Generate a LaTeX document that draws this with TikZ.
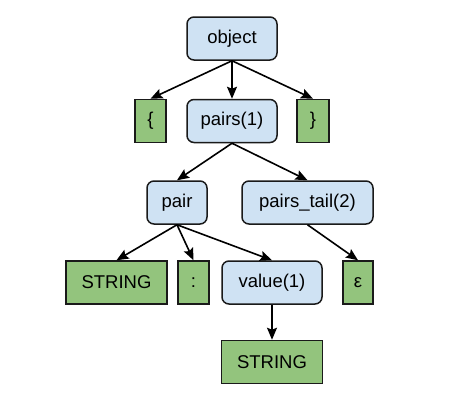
\documentclass[tikz,border=0pt]{standalone}
\usepackage{fontspec}
\setmainfont{Liberation Sans}
\usetikzlibrary{arrows.meta}
\definecolor{nblue}{HTML}{CFE2F3}
\definecolor{ngreen}{HTML}{93C47D}
\definecolor{nline}{HTML}{1A1A1A}
\begin{document}
\begin{tikzpicture}[x=1pt,y=-1pt,
  base/.style={draw=nline,line width=1.5pt,inner sep=0pt,minimum height=43pt,font=\fontsize{18.5}{20}\selectfont},
  nonterm/.style={base,fill=nblue,rounded corners=7pt},
  term/.style={base,fill=ngreen},
  edge/.style={line width=1.6pt,-{Stealth[length=12pt,width=10pt,inset=2pt]}}]
\useasboundingbox[fill=white] (0,0) rectangle (451,416);
\node[nonterm,minimum width=90pt] (obj) at (232,38.5) {object};
\node[term,minimum width=31pt] (lb) at (150.5,121) {\{};
\node[nonterm,minimum width=90pt] (pairs) at (232,121) {pairs(1)};
\node[term,minimum width=32pt] (rb) at (313,121) {\}};
\node[nonterm,minimum width=60pt] (pair) at (177,202.5) {pair};
\node[nonterm,minimum width=131pt] (tail) at (307.5,202.5) {pairs\_tail(2)};
\node[term,minimum width=101pt] (str1) at (116.5,282.5) {STRING};
\node[term,minimum width=31pt] (colon) at (193.5,282.5) {:};
\node[nonterm,minimum width=100pt] (value) at (272,282.5) {value(1)};
\node[term,minimum width=30pt] (eps) at (358,282.5) {ε};
\node[term,minimum width=101pt] (str2) at (272,362) {STRING};
\draw[edge] (obj.south) -- (lb.north);
\draw[edge] (obj.south) -- (pairs.north);
\draw[edge] (obj.south) -- (rb.north);
\draw[edge] (pairs.south) -- (pair.north);
\draw[edge] (pairs.south) -- (tail.north);
\draw[edge] (pair.south) -- (str1.north);
\draw[edge] (pair.south) -- (colon.north);
\draw[edge] (pair.south) -- (value.north);
\draw[edge] (tail.south) -- (eps.north);
\draw[edge] (value.south) -- (str2.north);
\end{tikzpicture}
\end{document}
